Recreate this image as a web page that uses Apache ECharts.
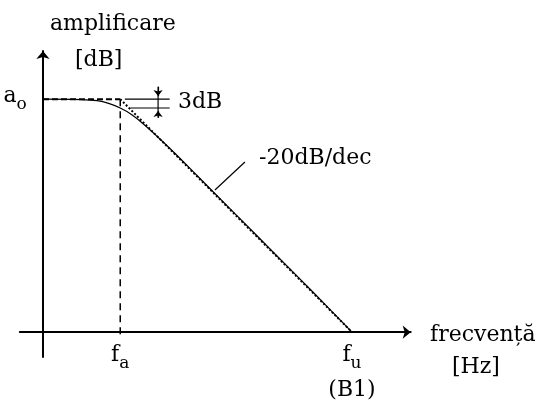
<!DOCTYPE html>
<html>
<head>
<meta charset="utf-8">
<script src="https://cdn.jsdelivr.net/npm/echarts@6/dist/echarts.min.js"></script>
<style>
html,body{margin:0;padding:0;background:#fff;}
#chart{width:544px;height:403px;}
</style>
</head>
<body>
<div id="chart"></div>
<script>
// ---- data (x in decades relative to axis origin, y in units of 20 dB) ----
var faX = 1;          // corner frequency f_a
var fuX = 4;          // unity-gain frequency f_u (B1)
var a0 = 3;           // open-loop gain a_o
var curveX = [0, 0.5, 0.7, 0.85, 1.0, 1.15, 1.3, 1.5, 1.7, 2.0, 2.5, 3.0, 3.5, 4.0];
var curveY = [3.0, 2.995, 2.98, 2.945, 2.885, 2.80, 2.68, 2.50, 2.31, 2.01, 1.51, 1.01, 0.51, 0.0];
var asymFlatX = [0, 1];
var asymFlatY = [3, 3];
var asymSlopeX = [1, 4];
var asymSlopeY = [3, 0];
var faLineY = [3, -0.08];
var dB3TopX = [1.06, 1.64];
var dB3BotX = [1.13, 1.64];
var dB3Levels = [3, 2.886];
var dB3ArrowX = 1.49;
var dB3ArrowY = [3.16, 3.039, 2.76, 2.847];
var leaderX = [2.226, 2.614];
var leaderY = [1.83, 2.191];
var xLabels = ['{f|f}{s|a}', '{f|f}{s|u}\n{p|(B1)}'];
var yLabels = ['{f|a}{s|o}'];
var texts = ['amplificare', '[dB]', '3dB', '-20dB/dec', 'frecvență', '[Hz]'];

var FONT = 'DejaVu Serif';
function pairs(xs, ys) { return xs.map(function (x, i) { return [x, ys[i]]; }); }

var richStyles = {
  f: {fontSize: 22, fontFamily: FONT, color: '#000', lineHeight: 22, verticalAlign: 'top'},
  s: {fontSize: 17, fontFamily: FONT, color: '#000', lineHeight: 28, verticalAlign: 'bottom'},
  p: {fontSize: 22, fontFamily: FONT, color: '#000', lineHeight: 36}
};

var black = '#000';
function seg(data, type, width) {
  return {
    type: 'line', data: data, showSymbol: false, silent: true,
    lineStyle: {color: black, width: width, type: type}
  };
}

var chart = echarts.init(document.getElementById('chart'), null, {renderer: 'canvas'});
var option = {
  animation: false,
  backgroundColor: '#fff',
  grid: {left: 19.8, top: 51, width: 390.9, height: 306, containLabel: false, outerBoundsMode: 'none'},
  xAxis: {
    type: 'value', min: -0.3, max: 4.76,
    axisLine: {onZero: true, symbol: ['none', 'arrow'], symbolSize: [10, 8], lineStyle: {color: black, width: 2}},
    axisTick: {show: false},
    splitLine: {show: false},
    axisLabel: {
      customValues: [faX, fuX], margin: -13,
      formatter: function (v) { return v === faX ? xLabels[0] : xLabels[1]; },
      rich: richStyles
    }
  },
  yAxis: {
    type: 'value', min: -0.32, max: 3.62,
    axisLine: {onZero: true, symbol: ['none', 'arrow'], symbolSize: [10, 8], lineStyle: {color: black, width: 2}},
    axisTick: {show: false},
    splitLine: {show: false},
    axisLabel: {
      customValues: [a0], margin: -7,
      formatter: function () { return yLabels[0]; },
      rich: richStyles
    }
  },
  series: [
    seg(pairs(asymFlatX, asymFlatY), [6, 3], 2),
    seg(pairs(asymSlopeX, asymSlopeY), [2, 2], 2),
    Object.assign(seg(pairs(curveX, curveY), 'solid', 1.2), {smooth: 0.4}),
    seg([[faX, faLineY[0]], [faX, faLineY[1]]], [7, 5], 1.5),
    seg(pairs(dB3TopX, [dB3Levels[0], dB3Levels[0]]), 'solid', 1.2),
    seg(pairs(dB3BotX, [dB3Levels[1], dB3Levels[1]]), 'solid', 1.2),
    Object.assign(seg([[dB3ArrowX, dB3ArrowY[0]], [dB3ArrowX, dB3ArrowY[2]]], 'solid', 1.2), {
      markLine: {
        silent: true, symbol: ['none', 'arrow'], symbolSize: [7, 6],
        label: {show: false},
        lineStyle: {color: black, width: 1.2, type: 'solid'},
        data: [
          [{coord: [dB3ArrowX, dB3ArrowY[0]]}, {coord: [dB3ArrowX, dB3ArrowY[1]]}],
          [{coord: [dB3ArrowX, dB3ArrowY[2]]}, {coord: [dB3ArrowX, dB3ArrowY[3]]}]
        ]
      }
    }),
    seg(pairs(leaderX, leaderY), 'solid', 1.2)
  ],
  graphic: [
    [texts[0], 50, 24], [texts[1], 75, 60], [texts[2], 178, 102],
    [texts[3], 259, 158], [texts[4], 430, 335], [texts[5], 452, 367]
  ].map(function (t) {
    return {
      type: 'text', x: t[1], y: t[2], silent: true,
      style: {text: t[0], fill: black, fontSize: 22, fontFamily: FONT,
              align: 'left', verticalAlign: 'middle', textAlign: 'left', textVerticalAlign: 'middle'}
    };
  })
};
chart.setOption(option);
</script>
</body>
</html>
